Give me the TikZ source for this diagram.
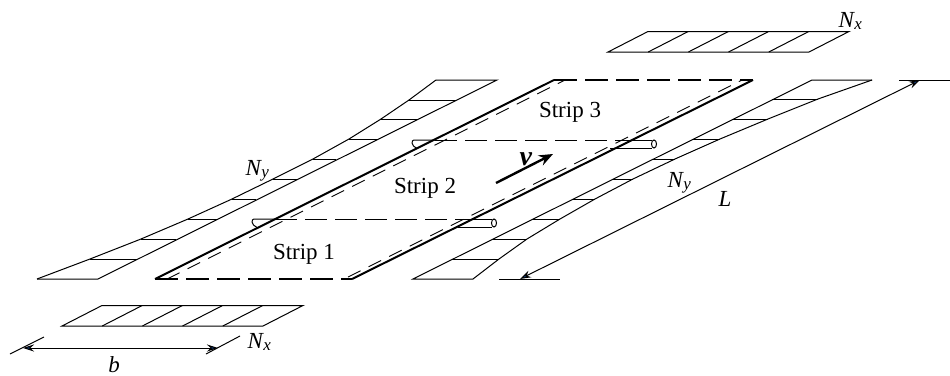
\documentclass[tikz,border=0pt]{standalone}
\usepackage{fontspec}
\setmainfont{Liberation Serif}
\usetikzlibrary{arrows.meta}
\definecolor{tipblue}{RGB}{20,60,120}
\newcommand{\Nsub}[1]{\textit{N}\kern-0.5pt\raisebox{-2.5pt}{\fontsize{17}{17}\selectfont\textit{#1}}}
\begin{document}
\begin{tikzpicture}[
            x=1pt, y=-1pt, line width=1pt,
            every node/.style={inner sep=0pt,font=\fontsize{23}{25}\selectfont},
            thickline/.style={line width=2pt},
            thickdash/.style={line width=2pt,dash pattern=on 23pt off 8pt},
            thindash/.style={line width=0.9pt,dash pattern=on 22pt off 8pt},
            sidedash/.style={line width=0.9pt,dash pattern=on 14pt off 9pt},
            dimtip/.style={{Stealth[length=11pt,width=7pt,fill=tipblue]}-{Stealth[length=11pt,width=7pt,fill=tipblue]}}
        ]
          \useasboundingbox (0,0) rectangle (950,375);
          % end grids
          \foreach \xs/\ys in {608/52,62/326} {
            \draw (\xs,\ys) -- ++(201,0) -- ++(40,-20.5) -- ++(-201,0) -- cycle;
            \foreach \i in {1,...,4} \draw (\xs+40.2*\i,\ys) -- ++(40,-20.5);
          }
          % left side strip
          \draw (37,279) -- (98,279) -- (497,80) -- (436,80);
          \draw (436,80) -- (409,100) -- (381,119) -- (349,139) -- (313,159) -- (273,179) -- (232,199) -- (188,219) -- (141,239) -- (90,259) -- (37,279);
          \foreach \yy/\xa/\xb in {259/90/137,239/141/176,219/188/217,199/232/256,179/273/297,159/313/336,139/349/377,119/381/417,100/409/456}
            \draw (\xa,\yy) -- (\xb,\yy);
          % right side strip
          \draw (872,80) -- (812,80) -- (413,279) -- (473,279);
          \draw (473,279) -- (499,259) -- (527,239) -- (560,219) -- (595,199) -- (633,179) -- (675,159) -- (720,139) -- (768,119) -- (818,99) -- (872,80);
          \foreach \yy/\xa/\xb in {259/452/499,239/492/527,219/532/560,199/572/595,179/612/633,159/652/675,139/692/720,119/732/768,99/772/818}
            \draw (\xa,\yy) -- (\xb,\yy);
          % strips
          \draw[thickline] (155,279) -- (554,80);
          \draw[thickline] (352,279) -- (753,80);
          \draw[thickdash] (155,279) -- (352,279);
          \draw[thickdash] (554,80) -- (753,80);
          \draw[sidedash] (167,279) -- (565,80);
          \draw[sidedash] (348,277) -- (742,80);
          % overlap tubes
          \foreach \ya/\xa/\xb/\xc/\xd in {219/252/275/475/492,140/412/435/627/652} {
            \draw[thindash] (\xb,\ya) -- (\xc,\ya);
            \draw (\xb,\ya) -- (\xa+2,\ya) .. controls (\xa-1,\ya) and (\xa-1,\ya+6) .. (\xa+5,\ya+8.5);
            \draw (\xc-8,\ya) -- (\xd,\ya);
            \draw (\xc-17,\ya+8) -- (\xd,\ya+8);
            \draw (\xd+2,\ya+4) ellipse (2.5pt and 4pt);
          }
          % velocity
          \coordinate (vstart) at (496,183);
          \coordinate (vend) at (553,154);
          \draw[line width=2.4pt,-{Stealth[length=14pt,width=11pt]}] (vstart) -- (vend);
          % dimensions
          \coordinate (Lbot) at (520,279);
          \coordinate (Ltop) at (920,80);
          \draw (499,279) -- (560,279);
          \draw (899,80) -- (950,80);
          \draw[dimtip] (Lbot) -- (Ltop);
          \coordinate (bleft) at (23,348);
          \coordinate (bright) at (218,348);
          \draw (10,354) -- (44,337);
          \draw (206,354) -- (240,336);
          \draw[dimtip] (bleft) -- (bright);
          % labels
          \node (strip1) at (304,254) {Strip 1};
          \node (strip2) at (425,188) {Strip 2};
          \node (strip3) at (570,112.5) {Strip 3};
          \node[font=\fontsize{28}{30}\selectfont] (vlabel) at (526,159) {\textbf{\textit{v}}};
          \node (Llabel) at (725,199) {\textit{L}};
          \node (blabel) at (114,364.5) {\textit{b}};
          \node[anchor=base west] (Nxtop) at (838,27) {\Nsub{x}};
          \node[anchor=base west] (Nxbot) at (247,348) {\Nsub{x}};
          \node[anchor=base west] (Nyleft) at (245,175) {\Nsub{y}};
          \node[anchor=base west] (Nyright) at (667,187) {\Nsub{y}};
        \end{tikzpicture}
\end{document}
